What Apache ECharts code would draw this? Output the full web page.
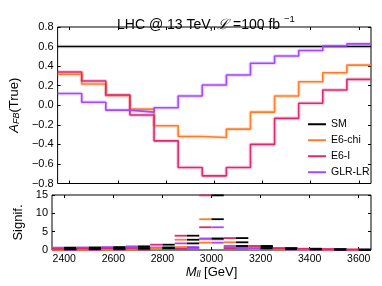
<!DOCTYPE html>
<html><head><meta charset="utf-8">
<script src="https://cdn.jsdelivr.net/npm/echarts@6/dist/echarts.min.js"></script>
<style>html,body{margin:0;padding:0;background:#fff}#c{width:382px;height:286px}</style>
</head><body><div id="c"></div>
<script>
// ---- data ----
const binCenters = [2400,2500,2600,2700,2800,2900,3000,3100,3200,3300,3400,3500,3600];
const binWidth = 100;
const xTicks = [2400,2600,2800,3000,3200,3400,3600];
const afbSM    = [0.60,0.60,0.60,0.60,0.60,0.60,0.60,0.60,0.60,0.60,0.60,0.60,0.60];
const afbChi   = [0.317,0.217,0.10,-0.04,-0.21,-0.32,-0.33,-0.244,-0.07,0.094,0.24,0.333,0.41];
const afbI     = [0.34,0.248,0.105,-0.10,-0.364,-0.636,-0.722,-0.636,-0.40,-0.134,0.02,0.156,0.265];
const afbGLR   = [0.12,0.03,-0.05,-0.07,-0.025,0.094,0.207,0.31,0.43,0.504,0.56,0.605,0.627];
// significance of pairs (left-half colour / right-half colour)
const sigI_SM    = [0.3,0.4,0.5,0.55,1.45,3.9,14.9,3.25,1.1,0.5,0.35,0.2,0.1];
const sigChi_SM  = [0.2,0.25,0.3,0.35,0.5,2.8,8.4,2.1,0.9,0.4,0.25,0.15,0.08];
const sigGLR_SM  = [0.65,0.7,0.8,1.0,0.7,1.8,3.15,1.1,0.5,0.25,0.15,0.1,0.05];
const sigI_GLR   = [0.15,0.2,0.3,0.3,0.5,0.3,6.2,0.5,0.6,0.45,0.3,0.2,0.1];
const sigChi_I   = [0.05,0.05,0.1,0.1,0.4,0.6,2.9,0.85,0.3,0.2,0.1,0.05,0.03];
const sigChi_GLR = [0.1,0.15,0.2,0.25,0.3,0.8,2.0,0.5,0.2,0.15,0.1,0.05,0.03];

const C = {SM:'#000000', chi:'#fb7d2a', I:'#d92a72', GLR:'#a348fb'};
const FONT = 'Liberation Sans, Arial, Helvetica, sans-serif';

function stepData(vals){
  const out=[];
  binCenters.forEach((c,i)=>{out.push([c-binWidth/2, vals[i]]); out.push([c+binWidth/2, vals[i]]);});
  return out;
}
function stepSeries(name, vals, color, bandOpacity){
  return [
    {name: name+'_band', type:'line', xAxisIndex:0, yAxisIndex:0, data:stepData(vals), symbol:'none',
     lineStyle:{color:color, width:4, opacity:bandOpacity}, silent:true, z:1},
    {name: name, type:'line', xAxisIndex:0, yAxisIndex:0, data:stepData(vals), symbol:'none',
     color:color, lineStyle:{color:color, width:1.6}, z:2}
  ];
}
function sigSeries(vals, colA, colB){
  return {type:'custom', xAxisIndex:2, yAxisIndex:2,
    data: binCenters.map((c,i)=>[c, vals[i]]),
    renderItem:function(params, api){
      const x=api.value(0), y=api.value(1);
      const pL=api.coord([x-binWidth/2,y]), pM=api.coord([x,y]), pR=api.coord([x+binWidth/2,y]);
      return {type:'group', children:[
        {type:'line', shape:{x1:pL[0],y1:pL[1],x2:pM[0],y2:pM[1]}, style:{stroke:colA, lineWidth:1.8}},
        {type:'line', shape:{x1:pM[0],y1:pM[1],x2:pR[0],y2:pR[1]}, style:{stroke:colB, lineWidth:1.8}}
      ]};
    }, z:3};
}
function xAx(grid, showLabel, pos, name){
  const a = {type:'value', gridIndex:grid, position:pos, min:2350, max:3650,
    axisLine:{show:false, onZero:false}, splitLine:{show:false},
    axisTick:{show:true, inside:true, length:3, customValues:xTicks, lineStyle:{color:'#000'}},
    axisLabel:{show:showLabel, customValues:xTicks, color:'#000', fontSize:10.5, fontFamily:FONT, margin:4,
      formatter:v=>String(v)}};
  if(name){ Object.assign(a, name); }
  return a;
}
function yAx(grid, min, max, interval, pos, showLabel, fmt, name){
  const a = {type:'value', gridIndex:grid, position:pos, min:min, max:max, interval:interval,
    axisLine:{show:false, onZero:false}, splitLine:{show:false},
    axisTick:{show:true, inside:true, length:3, lineStyle:{color:'#000'}},
    axisLabel:{show:showLabel, color:'#000', fontSize:11, fontFamily:FONT, margin:4, formatter:fmt}};
  if(name){ Object.assign(a, name); }
  return a;
}
const fmtA = v => (Math.round(v*10)/10).toFixed(1).replace('-', '\u2212');
const fmtS = v => String(v);

const option = {
  animation:false,
  backgroundColor:'#fff',
  title:{
    text:'{t|LHC @ 13 TeV, }{cal|ℒ}{t| =100 fb }{sup|\u22121}',
    left:112, top:9,
    textStyle:{fontFamily:FONT, fontSize:14, fontWeight:'normal', color:'#000',
      rich:{t:{fontFamily:FONT, fontSize:14, color:'#000', lineHeight:18, verticalAlign:'bottom'},
            cal:{fontFamily:'DejaVu Serif', fontStyle:'italic', fontSize:14, color:'#000', lineHeight:18, verticalAlign:'bottom'},
            sup:{fontSize:9.5, lineHeight:10, verticalAlign:'top', color:'#000', fontFamily:FONT}}}
  },
  grid:[
    {left:52, right:11, top:27, height:156.5, show:true, borderColor:'#000', borderWidth:1, backgroundColor:'transparent'},
    {left:52, right:11, top:195, height:55, show:true, borderColor:'#000', borderWidth:1, backgroundColor:'transparent'}
  ],
  xAxis:[
    xAx(0,false,'bottom'),
    xAx(0,false,'top'),
    xAx(1,true,'bottom',{name:'{i|M}{sub|ll} [GeV]', nameLocation:'middle', nameGap:14,
      nameTextStyle:{fontFamily:FONT, fontSize:13, color:'#000',
        rich:{i:{fontStyle:'italic', fontSize:13, fontFamily:FONT, color:'#000'},
              sub:{fontStyle:'italic', fontSize:9, verticalAlign:'bottom', fontFamily:FONT, color:'#000'}}}}),
    xAx(1,false,'top')
  ],
  yAxis:[
    yAx(0,-0.8,0.8,0.2,'left',true,fmtA,{name:'{i|A}{sub|FB}(True)', nameLocation:'middle', nameGap:22, nameRotate:90,
      nameTextStyle:{fontFamily:FONT, fontSize:13, color:'#000',
        rich:{i:{fontStyle:'italic', fontSize:13, fontFamily:FONT, color:'#000'},
              sub:{fontStyle:'italic', fontSize:9, verticalAlign:'bottom', fontFamily:FONT, color:'#000'}}}}),
    yAx(0,-0.8,0.8,0.2,'right',false,fmtA),
    yAx(1,0,15,5,'left',true,fmtS,{name:'Signif.', nameLocation:'middle', nameGap:15, nameRotate:90,
      nameTextStyle:{fontFamily:FONT, fontSize:13, color:'#000'}}),
    yAx(1,0,15,5,'right',false,fmtS)
  ],
  legend:{
    data:['SM','E6-chi','E6-I','GLR-LR'],
    orient:'vertical', left:303, top:113, itemGap:3.5,
    icon:'rect', itemWidth:18, itemHeight:2,
    textStyle:{fontFamily:FONT, fontSize:10.5, color:'#000', lineHeight:12.5},
    selectedMode:false
  },
  series:[
    ...stepSeries('SM', afbSM, C.SM, 0.08),
    ...stepSeries('E6-chi', afbChi, C.chi, 0.2),
    ...stepSeries('E6-I', afbI, C.I, 0.2),
    ...stepSeries('GLR-LR', afbGLR, C.GLR, 0.2),
    sigSeries(sigChi_GLR, C.chi, C.GLR),
    sigSeries(sigChi_I, C.chi, C.I),
    sigSeries(sigI_GLR, C.I, C.GLR),
    sigSeries(sigGLR_SM, C.GLR, C.SM),
    sigSeries(sigChi_SM, C.chi, C.SM),
    sigSeries(sigI_SM, C.I, C.SM)
  ]
};
const chart = echarts.init(document.getElementById('c'), null, {renderer:'canvas'});
chart.setOption(option);
</script>
</body></html>
